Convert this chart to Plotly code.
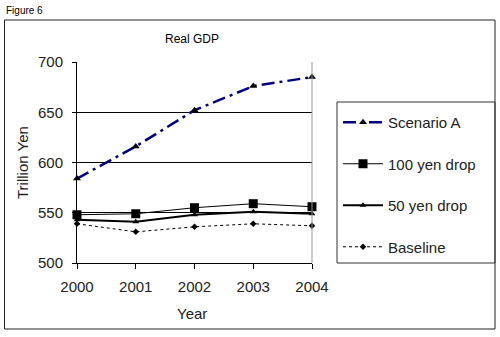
import plotly.graph_objects as go

years = [2000, 2001, 2002, 2003, 2004]
scenario_a = [584, 616, 652, 676, 685]
drop_100 = [548, 549, 555, 559, 556]
drop_50 = [543, 541, 548, 551, 549]
baseline = [539, 531, 536, 539, 537]
y_ticks = [500, 550, 600, 650, 700]

FONT = "Liberation Sans, Arial, sans-serif"

L, R, T, B = 77, 312, 62, 263
def px(x):
    return (x - L) / (R - L)
def py(y):
    return (B - y) / (B - T)

fig = go.Figure()
fig.add_trace(go.Scatter(x=years, y=scenario_a, name="Scenario A", mode="lines+markers",
                         line=dict(color="#000080", width=2.5, dash="13px,5px,3px,5px"),
                         marker=dict(symbol="triangle-up", size=7, color="black"),
                         cliponaxis=False, legendgroup="a"))
fig.add_trace(go.Scatter(x=years, y=drop_100, name="100 yen drop", mode="lines+markers",
                         line=dict(color="black", width=1),
                         marker=dict(symbol="square", size=9, color="black"),
                         cliponaxis=False, legendgroup="b"))
fig.add_trace(go.Scatter(x=years, y=drop_50, name="50 yen drop", mode="lines+markers",
                         line=dict(color="black", width=2),
                         marker=dict(symbol="triangle-up", size=6, color="black"),
                         cliponaxis=False, legendgroup="c"))
fig.add_trace(go.Scatter(x=years, y=baseline, name="Baseline", mode="lines+markers",
                         line=dict(color="black", width=1, dash="dot"),
                         marker=dict(symbol="diamond", size=5, color="black"),
                         cliponaxis=False, legendgroup="d"))

shapes = [
    dict(type="rect", xref="paper", yref="paper", x0=px(4.5), x1=px(495), y0=py(20), y1=py(329),
         line=dict(color="#222", width=1), layer="below"),
    dict(type="line", xref="paper", yref="paper", x0=1, x1=1, y0=0, y1=1,
         line=dict(color="#999", width=1)),
    dict(type="rect", xref="paper", yref="paper", x0=px(337), x1=px(495), y0=py(102), y1=py(263),
         line=dict(color="#333", width=1)),
]

annotations = [
    dict(text="Figure 6", x=px(4), y=py(10), xref="paper", yref="paper", xanchor="left", yanchor="middle",
         showarrow=False, font=dict(family=FONT, size=10, color="black")),
    dict(text="Real GDP", x=px(192), y=py(39), xref="paper", yref="paper", xanchor="center", yanchor="middle",
         showarrow=False, font=dict(family=FONT, size=12, color="black")),
    dict(text="Trillion Yen", x=px(22), y=py(163), xref="paper", yref="paper", xanchor="center", yanchor="middle",
         textangle=-90, showarrow=False, font=dict(family=FONT, size=15, color="#222")),
    dict(text="Year", x=px(192), y=py(313), xref="paper", yref="paper", xanchor="center", yanchor="middle",
         showarrow=False, font=dict(family=FONT, size=15, color="#222")),
]

fig.update_layout(
    width=500, height=337,
    margin=dict(l=L, r=500 - R, t=T, b=337 - B),
    paper_bgcolor="white", plot_bgcolor="white",
    font=dict(family=FONT, size=15, color="#222"),
    showlegend=True,
    legend=dict(x=px(338), y=py(106), xanchor="left", yanchor="top",
                bgcolor="rgba(0,0,0,0)", borderwidth=0,
                traceorder="grouped", tracegroupgap=19, itemwidth=40,
                font=dict(family=FONT, size=15, color="#222")),
    shapes=shapes, annotations=annotations,
)
fig.update_xaxes(range=[2000, 2004], tickvals=years, ticktext=[str(y) for y in years],
                 showgrid=False, showline=True, linecolor="black", linewidth=1,
                 ticks="outside", ticklen=5, tickcolor="black", zeroline=False,
                 ticklabelstandoff=5, tickfont=dict(size=15))
fig.update_yaxes(range=[500, 700], tickvals=y_ticks, showgrid=True, gridcolor="black", gridwidth=1,
                 showline=True, linecolor="black", linewidth=1,
                 ticks="outside", ticklen=4, tickcolor="black", zeroline=False,
                 ticklabelstandoff=6, tickfont=dict(size=15))

fig.write_html("out.html")
